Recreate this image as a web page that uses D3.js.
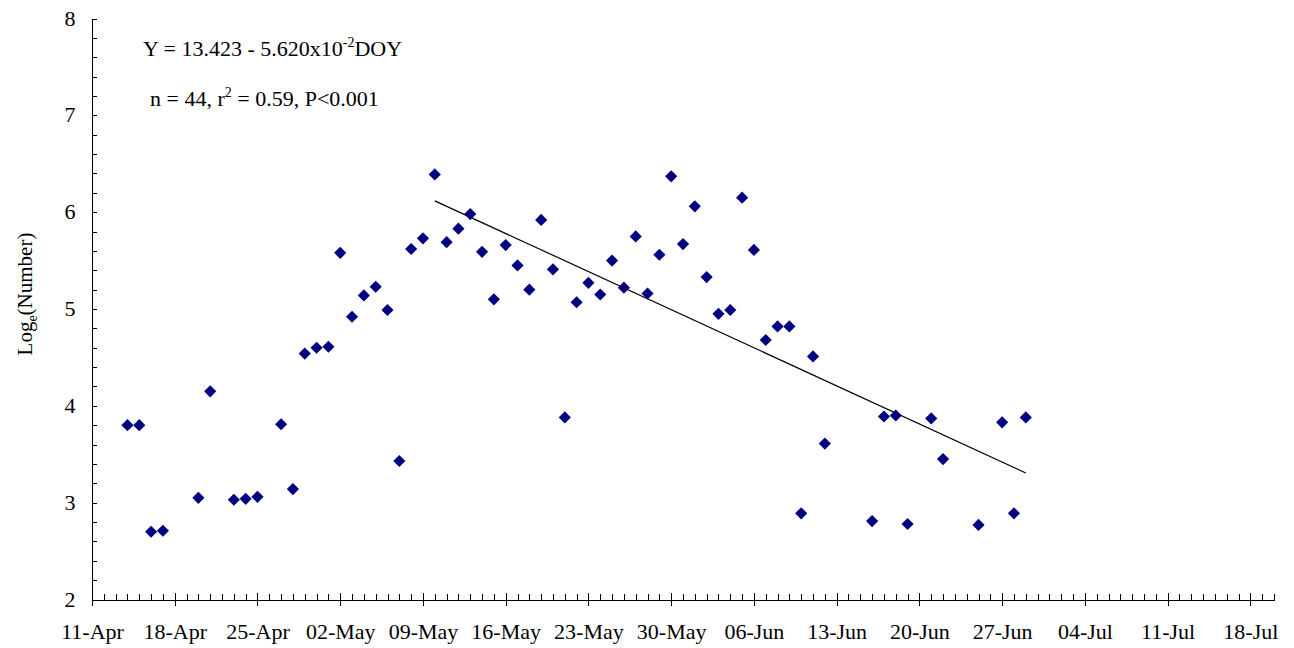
<!DOCTYPE html>
<html lang="en">
<head>
    <meta charset="UTF-8">
    <title>Loge(Number) by date</title>
    <script src="https://d3js.org/d3.v7.min.js"></script>
    <style>
        body { margin: 0; background: #fff; }
        text { font-family: "Liberation Serif", "Times New Roman", serif; fill: #000; }
        .axis path, .axis line { stroke: #000; stroke-width: 1px; shape-rendering: crispEdges; }
        .point { fill: #000080; }
        .trend { stroke: #000; stroke-width: 1.2px; fill: none; }
    </style>
</head>
<body>
<script>
    // sampling dates and log-transformed counts
    const dates = ["14-Apr","15-Apr","16-Apr","17-Apr","20-Apr","21-Apr","23-Apr","24-Apr","25-Apr","27-Apr",
        "28-Apr","29-Apr","30-Apr","01-May","02-May","03-May","04-May","05-May","06-May","07-May",
        "08-May","09-May","10-May","11-May","12-May","13-May","14-May","15-May","16-May","17-May",
        "18-May","19-May","20-May","21-May","22-May","23-May","24-May","25-May","26-May","27-May",
        "28-May","29-May","30-May","31-May","01-Jun","02-Jun","03-Jun","04-Jun","05-Jun","06-Jun",
        "07-Jun","08-Jun","09-Jun","10-Jun","11-Jun","12-Jun","16-Jun","17-Jun","18-Jun","19-Jun",
        "21-Jun","22-Jun","25-Jun","27-Jun","28-Jun","29-Jun"];
    const logNumber = [3.80,3.80,2.70,2.71,3.05,4.15,3.03,3.04,3.06,3.81,
        3.14,4.54,4.60,4.61,5.58,4.92,5.14,5.23,4.99,3.43,
        5.62,5.73,6.39,5.69,5.83,5.98,5.59,5.10,5.66,5.45,
        5.20,5.92,5.41,3.88,5.07,5.27,5.15,5.50,5.22,5.75,
        5.16,5.56,6.37,5.67,6.06,5.33,4.95,4.99,6.15,5.61,
        4.68,4.82,4.82,2.89,4.51,3.61,2.81,3.89,3.90,2.78,
        3.87,3.45,2.77,3.83,2.89,3.88];

    // regression: Y = 13.423 - 0.0562 * DOY, fitted over this span
    const intercept = 13.423;
    const slope = -0.05620;
    const trendDates = ["10-May", "29-Jun"];

    const xDomain = ["11-Apr", "20-Jul"];
    const yTicks = [2, 3, 4, 5, 6, 7, 8];

    const width = 1294, height = 648;
    const year = 2005;
    const parse = s => d3.timeParse("%d-%b-%Y")(s + "-" + year);

    const svg = d3.select("body").append("svg")
        .attr("width", width)
        .attr("height", height);

    const x = d3.scaleTime()
        .domain(xDomain.map(parse))
        .range([92, 1274]);

    const y = d3.scaleLinear()
        .domain([2, 8])
        .range([599.5, 18.5]);

    // minor ticks (daily / 0.2)
    svg.append("g")
        .attr("class", "axis")
        .attr("transform", "translate(0,599.5)")
        .call(d3.axisBottom(x).ticks(d3.timeDay.every(1)).tickSize(-6).tickFormat(""))
        .select(".domain").remove();

    svg.append("g")
        .attr("class", "axis")
        .attr("transform", "translate(91.5,0)")
        .call(d3.axisLeft(y).tickValues(d3.range(2, 8.01, 0.2)).tickSize(-5).tickFormat(""))
        .select(".domain").remove();

    // major x axis
    const weekTicks = d3.timeDay.range(parse("11-Apr"), parse("19-Jul"), 7);
    const xAxis = svg.append("g")
        .attr("class", "axis")
        .attr("transform", "translate(0,599.5)")
        .call(d3.axisBottom(x).tickValues(weekTicks).tickSize(6).tickSizeOuter(0)
            .tickFormat(d3.timeFormat("%d-%b")));
    xAxis.selectAll(".tick line").attr("y1", -7);
    xAxis.selectAll(".tick text")
        .attr("y", 39)
        .attr("dy", 0)
        .style("font-size", "22px");

    // major y axis
    const yAxis = svg.append("g")
        .attr("class", "axis")
        .attr("transform", "translate(91.5,0)")
        .call(d3.axisLeft(y).tickValues(yTicks).tickSize(5).tickSizeOuter(0).tickFormat(d3.format("d")));
    yAxis.selectAll(".tick line").attr("x2", 5);
    yAxis.selectAll(".tick text")
        .attr("x", -16)
        .attr("dy", "0.3em")
        .style("font-size", "22px");

    // y label
    const ylab = svg.append("text")
        .attr("transform", "translate(32,294) rotate(-90)")
        .attr("text-anchor", "middle")
        .style("font-size", "21px");
    ylab.append("tspan").text("Log");
    ylab.append("tspan").attr("dy", 5).style("font-size", "14px").text("e");
    ylab.append("tspan").attr("dy", -5).text("(Number)");

    // trend line
    const doy = d => d3.timeDay.count(d3.timeYear(d), d) + 1;
    const trend = trendDates.map(parse).map(d => ({ date: d, v: intercept + slope * doy(d) }));
    svg.append("path")
        .datum(trend)
        .attr("class", "trend")
        .attr("d", d3.line().x(d => x(d.date)).y(d => y(d.v)));

    // points
    const diamond = d3.symbol().type(d3.symbolSquare).size(74);
    svg.append("g")
        .selectAll("path")
        .data(dates.map((d, i) => ({ date: parse(d), v: logNumber[i] })))
        .join("path")
        .attr("class", "point")
        .attr("d", diamond)
        .attr("transform", d => `translate(${x(d.date)},${y(d.v)}) rotate(45)`);

    // equation text
    const eq = svg.append("text")
        .attr("x", 143).attr("y", 56)
        .style("font-size", "22px");
    eq.append("tspan").text("Y = 13.423 - 5.620x10");
    eq.append("tspan").attr("dy", -9).style("font-size", "14px").text("-2");
    eq.append("tspan").attr("dy", 9).text("DOY");

    const stats = svg.append("text")
        .attr("x", 150).attr("y", 106)
        .style("font-size", "22px");
    stats.append("tspan").text("n = 44, r");
    stats.append("tspan").attr("dy", -9).style("font-size", "14px").text("2");
    stats.append("tspan").attr("dy", 9).text(" = 0.59, P<0.001");
</script>
</body>
</html>
